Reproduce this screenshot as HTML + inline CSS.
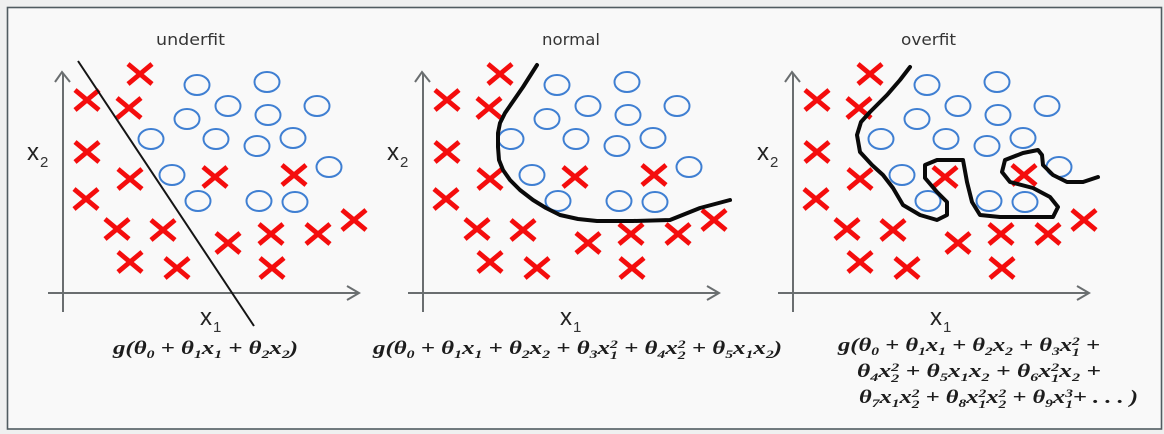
<!DOCTYPE html>
<html><head><meta charset="utf-8"><style>
html,body{margin:0;padding:0;background:#eff0f0;}
svg{display:block;}
.f{font-family:"Liberation Serif",serif;font-weight:bold;font-style:italic;font-size:19px;fill:#1c1c1c;}
.s{font-size:12px;}
.t{font-family:"DejaVu Sans",sans-serif;font-size:16px;fill:#353535;}
.xl{font-family:"Liberation Sans",sans-serif;font-size:24px;fill:#222;}
.xs{font-family:"Liberation Sans",sans-serif;font-size:15px;fill:#333;}
</style></head><body>
<svg width="1164" height="434" viewBox="0 0 1164 434" xmlns="http://www.w3.org/2000/svg">
<rect x="0" y="0" width="1164" height="434" fill="#eff0f0"/>
<rect x="7.5" y="7.5" width="1154" height="421.5" fill="#f9f9f9" stroke="#505c61" stroke-width="1.6"/>
<defs>
<g id="cx"><path d="M-12,-10 L12,10 M-12,10 L12,-10" stroke="#f40d0d" stroke-width="4.8" fill="none"/></g>
<g id="p">
  <g stroke="#6a6e70" stroke-width="2" fill="none">
    <line x1="63" y1="73" x2="63" y2="312"/>
    <line x1="48" y1="293" x2="359" y2="293"/>
    <polyline points="55,82 62,72 70,82"/>
    <polyline points="347,286 359,293 347,300"/>
  </g>
  <g fill="none" stroke="#3f7fd2" stroke-width="2">
    <ellipse cx="197" cy="85" rx="12.5" ry="10"/>
    <ellipse cx="267" cy="82" rx="12.5" ry="10"/>
    <ellipse cx="228" cy="106" rx="12.5" ry="10"/>
    <ellipse cx="268" cy="115" rx="12.5" ry="10"/>
    <ellipse cx="317" cy="106" rx="12.5" ry="10"/>
    <ellipse cx="187" cy="119" rx="12.5" ry="10"/>
    <ellipse cx="151" cy="139" rx="12.5" ry="10"/>
    <ellipse cx="216" cy="139" rx="12.5" ry="10"/>
    <ellipse cx="257" cy="146" rx="12.5" ry="10"/>
    <ellipse cx="293" cy="138" rx="12.5" ry="10"/>
    <ellipse cx="172" cy="175" rx="12.5" ry="10"/>
    <ellipse cx="329" cy="167" rx="12.5" ry="10"/>
    <ellipse cx="198" cy="201" rx="12.5" ry="10"/>
    <ellipse cx="259" cy="201" rx="12.5" ry="10"/>
    <ellipse cx="295" cy="202" rx="12.5" ry="10"/>
  </g>
  <use href="#cx" transform="translate(140,74)"/>
  <use href="#cx" transform="translate(87,100)"/>
  <use href="#cx" transform="translate(129,108)"/>
  <use href="#cx" transform="translate(87,152)"/>
  <use href="#cx" transform="translate(130,179)"/>
  <use href="#cx" transform="translate(215,177)"/>
  <use href="#cx" transform="translate(294,175)"/>
  <use href="#cx" transform="translate(86,199)"/>
  <use href="#cx" transform="translate(117,229)"/>
  <use href="#cx" transform="translate(163,230)"/>
  <use href="#cx" transform="translate(228,243)"/>
  <use href="#cx" transform="translate(271,234)"/>
  <use href="#cx" transform="translate(318,234)"/>
  <use href="#cx" transform="translate(354,220)"/>
  <use href="#cx" transform="translate(130,262)"/>
  <use href="#cx" transform="translate(177,268)"/>
  <use href="#cx" transform="translate(272,268)"/>
  <text class="xl" x="27" y="160">x</text><text class="xs" x="40" y="167">2</text>
  <text class="xl" x="200" y="325">x</text><text class="xs" x="213" y="332">1</text>
</g>
</defs>

<use href="#p"/>
<use href="#p" transform="translate(360,0)"/>
<use href="#p" transform="translate(730,0)"/>

<text class="t" x="156" y="45" textLength="69" lengthAdjust="spacingAndGlyphs">underfit</text>
<text class="t" x="542" y="45" textLength="58" lengthAdjust="spacingAndGlyphs">normal</text>
<text class="t" x="901" y="45" textLength="55" lengthAdjust="spacingAndGlyphs">overfit</text>

<!-- underfit line -->
<line x1="78" y1="61" x2="254" y2="326" stroke="#151515" stroke-width="2"/>

<!-- normal curve -->
<polyline fill="none" stroke="#0a0a0a" stroke-width="4" stroke-linejoin="round" stroke-linecap="round"
 points="537,65 530,76 523,87 514,100 505,113 500,123 498,133 498,147 499,160 503,170 510,180 520,190 533,200 546,208 560,215 578,219 597,221 633,221 670,220 685,214 700,208 715,204 730,200"/>

<!-- overfit curve -->
<polyline fill="none" stroke="#0a0a0a" stroke-width="4" stroke-linejoin="round" stroke-linecap="round"
 points="910,67 900,80 887,95 870,112 861,122 857,135 860,152 872,165 883,175 893,188 903,205 920,215 937,220 947,215 947,202 937,192 925,178 925,165 937,160 963,160 967,182 972,202 980,215 1000,217 1053,217 1058,207 1050,197 1033,188 1010,182 1002,172 1005,160 1023,153 1038,150 1042,155 1043,165 1053,175 1067,182 1083,182 1098,177"/>

<!-- formulas -->
<text class="f" x="113" y="354" textLength="185" lengthAdjust="spacingAndGlyphs">g(θ<tspan class="s" dy="4">0</tspan><tspan dy="-4"> + θ</tspan><tspan class="s" dy="4">1</tspan><tspan dy="-4">x</tspan><tspan class="s" dy="4">1</tspan><tspan dy="-4"> + θ</tspan><tspan class="s" dy="4">2</tspan><tspan dy="-4">x</tspan><tspan class="s" dy="4">2</tspan><tspan dy="-4">)</tspan></text>

<text class="f" x="373" y="354" textLength="409" lengthAdjust="spacingAndGlyphs">g(θ<tspan class="s" dy="4">0</tspan><tspan dy="-4"> + θ</tspan><tspan class="s" dy="4">1</tspan><tspan dy="-4">x</tspan><tspan class="s" dy="4">1</tspan><tspan dy="-4"> + θ</tspan><tspan class="s" dy="4">2</tspan><tspan dy="-4">x</tspan><tspan class="s" dy="4">2</tspan><tspan dy="-4"> + θ</tspan><tspan class="s" dy="4">3</tspan><tspan dy="-4">x</tspan><tspan class="s" dy="-6">2</tspan><tspan class="s" dx="-6" dy="11">1</tspan><tspan dy="-5"> + θ</tspan><tspan class="s" dy="4">4</tspan><tspan dy="-4">x</tspan><tspan class="s" dy="-6">2</tspan><tspan class="s" dx="-6" dy="11">2</tspan><tspan dy="-5"> + θ</tspan><tspan class="s" dy="4">5</tspan><tspan dy="-4">x</tspan><tspan class="s" dy="4">1</tspan><tspan dy="-4">x</tspan><tspan class="s" dy="4">2</tspan><tspan dy="-4">)</tspan></text>

<text class="f" x="838" y="351" textLength="262" lengthAdjust="spacingAndGlyphs">g(θ<tspan class="s" dy="4">0</tspan><tspan dy="-4"> + θ</tspan><tspan class="s" dy="4">1</tspan><tspan dy="-4">x</tspan><tspan class="s" dy="4">1</tspan><tspan dy="-4"> + θ</tspan><tspan class="s" dy="4">2</tspan><tspan dy="-4">x</tspan><tspan class="s" dy="4">2</tspan><tspan dy="-4"> + θ</tspan><tspan class="s" dy="4">3</tspan><tspan dy="-4">x</tspan><tspan class="s" dy="-6">2</tspan><tspan class="s" dx="-6" dy="11">1</tspan><tspan dy="-5"> +</tspan></text>

<text class="f" x="857" y="377" textLength="244" lengthAdjust="spacingAndGlyphs">θ<tspan class="s" dy="4">4</tspan><tspan dy="-4">x</tspan><tspan class="s" dy="-6">2</tspan><tspan class="s" dx="-6" dy="11">2</tspan><tspan dy="-5"> + θ</tspan><tspan class="s" dy="4">5</tspan><tspan dy="-4">x</tspan><tspan class="s" dy="4">1</tspan><tspan dy="-4">x</tspan><tspan class="s" dy="4">2</tspan><tspan dy="-4"> + θ</tspan><tspan class="s" dy="4">6</tspan><tspan dy="-4">x</tspan><tspan class="s" dy="-6">2</tspan><tspan class="s" dx="-6" dy="11">1</tspan><tspan dy="-5">x</tspan><tspan class="s" dy="4">2</tspan><tspan dy="-4"> +</tspan></text>

<text class="f" x="859" y="403" textLength="279" lengthAdjust="spacingAndGlyphs">θ<tspan class="s" dy="4">7</tspan><tspan dy="-4">x</tspan><tspan class="s" dy="4">1</tspan><tspan dy="-4">x</tspan><tspan class="s" dy="-6">2</tspan><tspan class="s" dx="-6" dy="11">2</tspan><tspan dy="-5"> + θ</tspan><tspan class="s" dy="4">8</tspan><tspan dy="-4">x</tspan><tspan class="s" dy="-6">2</tspan><tspan class="s" dx="-6" dy="11">1</tspan><tspan dy="-5">x</tspan><tspan class="s" dy="-6">2</tspan><tspan class="s" dx="-6" dy="11">2</tspan><tspan dy="-5"> + θ</tspan><tspan class="s" dy="4">9</tspan><tspan dy="-4">x</tspan><tspan class="s" dy="-6">3</tspan><tspan class="s" dx="-6" dy="11">1</tspan><tspan dy="-5">+ . . . )</tspan></text>
</svg>
</body></html>
